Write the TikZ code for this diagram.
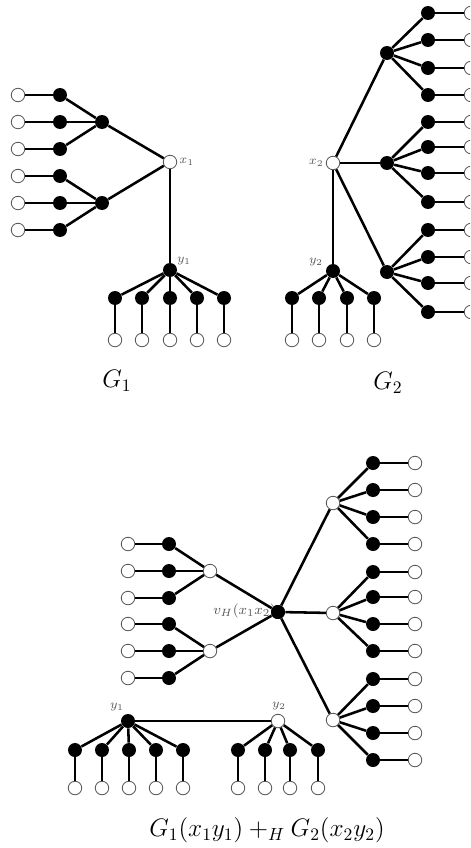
\documentclass[tikz,border=0pt]{standalone}
\begin{document}
\begin{tikzpicture}[x=0.02cm,y=-0.02cm,
  wv/.style={circle,draw=black!65,line width=0.5pt,fill=white,inner sep=0pt,minimum size=0.27cm},
  bv/.style={circle,fill=black,inner sep=0pt,minimum size=0.28cm},
  ed/.style={line width=1.45pt},
  thined/.style={line width=1.1pt},
  lab/.style={text=black!65,font=\scriptsize,inner sep=1pt},
  captxt/.style={font=\Large}]
\useasboundingbox (0,0) rectangle (470,848);
\clip (0,0) rectangle (470,848);

% ---------- G1 ----------
\node[wv] (ax1) at (170,162) {};
\node[bv] (ay1) at (170,270) {};
\node[bv] (ah1) at (102,122) {};
\node[bv] (ah2) at (102,203) {};
\foreach \i/\yy in {1/95,2/122,3/149,4/176,5/203,6/230}{
  \node[wv] (al\i) at (18,\yy) {};
  \node[bv] (ab\i) at (60,\yy) {};
}
\foreach \i/\xx in {1/115,2/142,3/170,4/197,5/224}{
  \node[bv] (ac\i) at (\xx,298) {};
  \node[wv] (ad\i) at (\xx,340) {};
}
\foreach \i in {1,...,6}{ \draw[ed] (al\i) -- (ab\i); }
\foreach \i in {1,2,3}{ \draw[ed] (ab\i) -- (ah1); }
\foreach \i in {4,5,6}{ \draw[ed] (ab\i) -- (ah2); }
\draw[ed] (ah1) -- (ax1);
\draw[ed] (ah2) -- (ax1);
\draw[thined] (ax1) -- (ay1);
\foreach \i in {1,...,5}{ \draw[ed] (ay1) -- (ac\i); \draw[ed] (ac\i) -- (ad\i); }
\node[lab,anchor=west] at (ax1.east) {$x_1$};
\node[lab] at (184,261) {$y_1$};
\node[captxt] (g1) at (117,381) {$G_1$};

% ---------- G2 ----------
\node[wv] (bx2) at (333,163) {};
\node[bv] (by2) at (333,271) {};
\node[bv] (bh1) at (387,53) {};
\node[bv] (bh2) at (387,163) {};
\node[bv] (bh3) at (387,272) {};
\foreach \i/\yy in {1/13,2/40,3/68,4/95,5/122,6/147,7/173,8/202,9/230,10/257,11/283,12/312}{
  \node[bv] (bb\i) at (428,\yy) {};
  \node[wv] (bl\i) at (471,\yy) {};
}
\foreach \i/\xx in {1/292,2/319,3/347,4/374}{
  \node[bv] (bc\i) at (\xx,298) {};
  \node[wv] (bd\i) at (\xx,340) {};
}
\foreach \i in {1,...,12}{ \draw[ed] (bb\i) -- (bl\i); }
\foreach \i in {1,...,4}{ \draw[ed] (bh1) -- (bb\i); }
\foreach \i in {5,...,8}{ \draw[ed] (bh2) -- (bb\i); }
\foreach \i in {9,...,12}{ \draw[ed] (bh3) -- (bb\i); }
\foreach \i in {1,2,3}{ \draw[ed] (bx2) -- (bh\i); }
\draw[ed] (bx2) -- (by2);
\foreach \i in {1,...,4}{ \draw[ed] (by2) -- (bc\i); \draw[ed] (bc\i) -- (bd\i); }
\node[lab,anchor=east] at (bx2.west) {$x_2$};
\node[lab] at (316,262) {$y_2$};
\node[captxt] (g2) at (388,383) {$G_2$};

% ---------- G1(x1y1) +_H G2(x2y2) ----------
\node[bv] (cv) at (278,612) {};
\node[wv] (ch1) at (210,571) {};
\node[wv] (ch2) at (210,651) {};
\foreach \i/\yy in {1/544,2/571,3/598,4/624,5/651,6/678}{
  \node[wv] (cl\i) at (128,\yy) {};
  \node[bv] (cb\i) at (169,\yy) {};
}
\foreach \i in {1,...,6}{ \draw[ed] (cl\i) -- (cb\i); }
\foreach \i in {1,2,3}{ \draw[ed] (cb\i) -- (ch1); }
\foreach \i in {4,5,6}{ \draw[ed] (cb\i) -- (ch2); }
\draw[ed] (ch1) -- (cv);
\draw[ed] (ch2) -- (cv);

\node[wv] (ck1) at (333,503) {};
\node[wv] (ck2) at (333,613) {};
\node[wv] (ck3) at (333,720) {};
\foreach \i/\yy in {1/463,2/490,3/517,4/544,5/572,6/597,7/624,8/651,9/679,10/706,11/733,12/760}{
  \node[bv] (cr\i) at (373,\yy) {};
  \node[wv] (cs\i) at (415,\yy) {};
}
\foreach \i in {1,...,12}{ \draw[ed] (cr\i) -- (cs\i); }
\foreach \i in {1,...,4}{ \draw[ed] (ck1) -- (cr\i); }
\foreach \i in {5,...,8}{ \draw[ed] (ck2) -- (cr\i); }
\foreach \i in {9,...,12}{ \draw[ed] (ck3) -- (cr\i); }
\foreach \i in {1,2,3}{ \draw[ed] (cv) -- (ck\i); }

\node[bv] (cy1) at (128,721) {};
\node[wv] (cy2) at (278,721) {};
\draw[thined] (cy1) -- (cy2);
\foreach \i/\xx in {1/75,2/102,3/129,4/156,5/183}{
  \node[bv] (cp\i) at (\xx,750) {};
  \node[wv] (cq\i) at (\xx,788) {};
  \draw[ed] (cy1) -- (cp\i);
  \draw[ed] (cp\i) -- (cq\i);
}
\foreach \i/\xx in {1/238,2/265,3/290,4/318}{
  \node[bv] (cm\i) at (\xx,750) {};
  \node[wv] (cn\i) at (\xx,788) {};
  \draw[ed] (cy2) -- (cm\i);
  \draw[ed] (cm\i) -- (cn\i);
}
\node[lab,font=\footnotesize,anchor=east] at (278,611) {$v_H(x_1x_2)$};
\node[bv] at (cv.center) {};
\node[lab] at (117,707) {$y_1$};
\node[lab] at (279,706) {$y_2$};
\node[captxt] (gc) at (267,830) {$G_1(x_1y_1) +_H G_2(x_2y_2)$};
\end{tikzpicture}
\end{document}
